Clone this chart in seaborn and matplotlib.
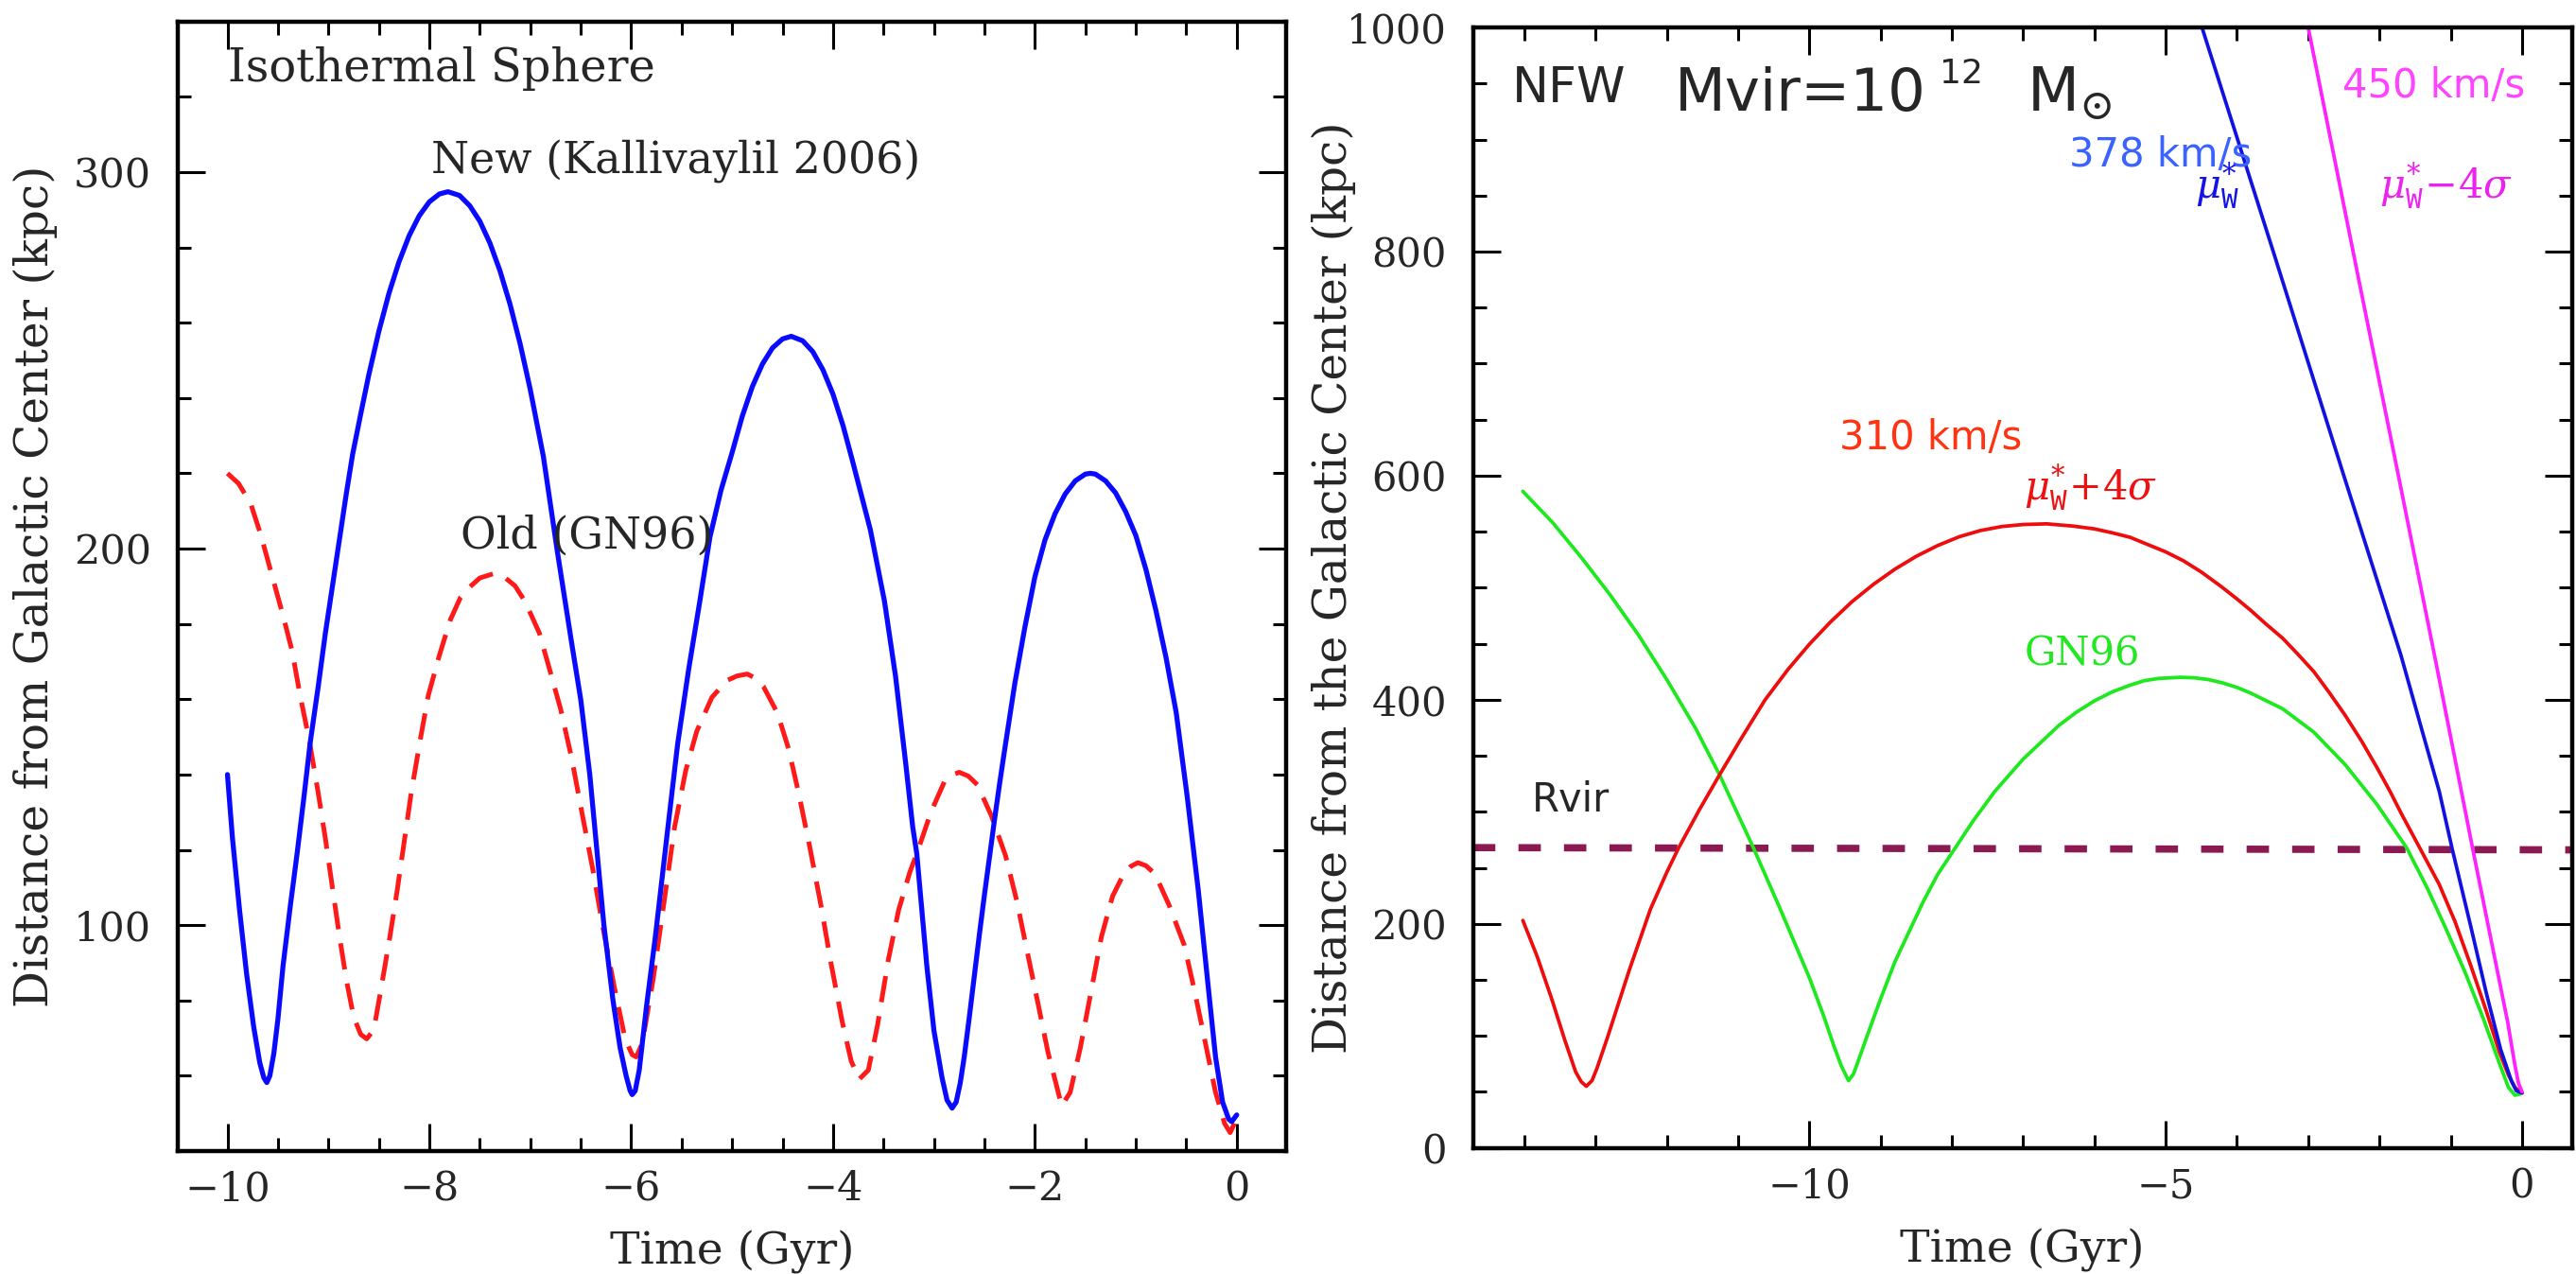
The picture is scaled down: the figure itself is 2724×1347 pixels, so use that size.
import matplotlib
matplotlib.use("Agg")
import matplotlib.pyplot as plt
import matplotlib.ticker as mticker
import seaborn as sns

# ────────────────────────────────────────────────────────────────
# Left panel: isothermal sphere orbits (time in Gyr, distance in kpc)
# ────────────────────────────────────────────────────────────────
new_t = [-10.00, -9.95, -9.88, -9.81, -9.74, -9.68, -9.64, -9.61, -9.58, -9.54,
         -9.50, -9.45, -9.38, -9.31, -9.24, -9.18, -9.10, -9.03, -8.96, -8.89,
         -8.82, -8.76, -8.68, -8.60, -8.50, -8.40, -8.30, -8.20, -8.10, -8.00,
         -7.90, -7.815, -7.70, -7.60, -7.50, -7.40, -7.30, -7.20, -7.10, -7.00,
         -6.87, -6.73, -6.59, -6.50, -6.41, -6.34, -6.27, -6.18, -6.11, -6.05,
         -6.01, -5.99, -5.96, -5.92, -5.85, -5.76, -5.64, -5.54, -5.43, -5.32,
         -5.22, -5.11, -5.00, -4.90, -4.80, -4.70, -4.60, -4.50, -4.414, -4.30,
         -4.20, -4.10, -4.00, -3.90, -3.81, -3.63, -3.49, -3.38, -3.28, -3.21,
         -3.17, -3.14, -3.07, -3.00, -2.92, -2.87, -2.82, -2.78, -2.74, -2.70,
         -2.65, -2.60, -2.55, -2.50, -2.45, -2.40, -2.35, -2.30, -2.20, -2.10,
         -2.00, -1.90, -1.80, -1.70, -1.60, -1.50, -1.451, -1.40, -1.30, -1.20,
         -1.10, -1.00, -0.90, -0.80, -0.70, -0.60, -0.49, -0.38, -0.28, -0.21,
         -0.14, -0.08, -0.05, 0.00]
new_d = [140.0, 123.0, 104.0, 87.0, 73.0, 63.5, 59.5, 58.2, 60.0, 66.0,
         75.0, 89.0, 104.5, 119.0, 134.5, 148.5, 163.5, 177.5, 190.0, 202.5,
         215.0, 225.0, 235.7, 246.1, 257.7, 267.8, 276.2, 283.1, 288.4, 292.1,
         294.2, 294.8, 293.8, 291.1, 287.0, 281.2, 273.8, 264.9, 254.4, 242.3,
         224.5, 199.0, 175.0, 160.0, 140.0, 120.0, 100.0, 80.0, 67.5, 60.0,
         56.0, 55.0, 56.0, 61.5, 78.0, 97.0, 125.0, 148.0, 168.0, 186.0,
         203.0, 215.5, 225.5, 235.1, 243.0, 249.0, 253.3, 255.7, 256.4, 255.2,
         252.3, 247.5, 241.0, 232.6, 223.6, 205.0, 186.0, 166.0, 143.0, 126.0,
         119.0, 110.0, 89.0, 72.0, 59.5, 53.5, 51.4, 53.0, 58.0, 65.0,
         75.5, 86.5, 97.5, 108.0, 118.0, 128.0, 137.5, 146.5, 164.0, 179.0,
         192.5, 202.3, 209.3, 214.5, 218.0, 219.8, 220.0, 219.8, 218.0, 214.8,
         209.8, 203.5, 194.5, 183.5, 171.0, 156.5, 134.0, 109.0, 83.0, 65.0,
         53.0, 48.5, 47.8, 49.6]

old_t = [-10.00, -9.89, -9.77, -9.67, -9.56, -9.45, -9.36, -9.28, -9.19, -9.10,
         -9.03, -8.96, -8.89, -8.82, -8.75, -8.68, -8.62, -8.55, -8.48, -8.39,
         -8.32, -8.25, -8.18, -8.09, -8.01, -7.90, -7.79, -7.69, -7.60, -7.50,
         -7.37, -7.25, -7.15, -7.05, -6.91, -6.81, -6.70, -6.59, -6.49, -6.38,
         -6.28, -6.17, -6.06, -5.99, -5.95, -5.89, -5.78, -5.68, -5.57, -5.46,
         -5.35, -5.20, -5.05, -4.95, -4.85, -4.77, -4.69, -4.55, -4.44, -4.34,
         -4.23, -4.12, -4.02, -3.91, -3.82, -3.74, -3.65, -3.56, -3.45, -3.35,
         -3.24, -3.17, -3.03, -2.89, -2.82, -2.75, -2.66, -2.57, -2.43, -2.29,
         -2.18, -2.08, -1.97, -1.87, -1.78, -1.735, -1.65, -1.55, -1.44, -1.34,
         -1.23, -1.12, -1.05, -0.98, -0.90, -0.81, -0.67, -0.52, -0.42, -0.31,
         -0.21, -0.12, -0.065, 0.00]
old_d = [220.0, 217.3, 212.0, 203.7, 193.0, 182.3, 172.9, 161.0, 149.2, 135.0,
         123.1, 110.0, 97.0, 85.2, 75.7, 71.0, 69.8, 72.2, 82.8, 97.0,
         108.9, 121.9, 135.0, 149.2, 161.0, 171.7, 181.2, 187.1, 189.8, 192.2,
         193.3, 192.3, 190.1, 185.9, 177.6, 168.1, 157.5, 144.4, 130.2, 114.8,
         99.4, 84.0, 69.8, 65.6, 65.0, 68.6, 86.0, 105.0, 126.0, 141.0,
         151.5, 160.5, 165.0, 166.2, 166.7, 165.6, 163.4, 156.3, 146.8, 135.0,
         120.7, 105.3, 89.9, 74.5, 63.9, 59.1, 61.5, 73.3, 91.1, 104.0,
         114.0, 119.0, 130.0, 138.5, 139.9, 140.6, 139.6, 137.3, 129.0, 118.4,
         106.5, 93.5, 79.3, 66.2, 56.8, 52.0, 55.6, 67.4, 82.8, 97.0,
         107.7, 113.6, 115.6, 116.6, 115.8, 113.6, 105.3, 94.7, 82.8, 68.6,
         55.6, 47.3, 44.9, 48.7]

# ────────────────────────────────────────────────────────────────
# Right panel: NFW halo, Mvir = 1e12 Msun
# ────────────────────────────────────────────────────────────────
red_t = [-14.02, -13.82, -13.62, -13.43, -13.28, -13.20, -13.13, -13.05, -12.98, -12.83,
         -12.53, -12.23, -12.00, -11.84, -11.55, -11.26, -10.95, -10.62, -10.30, -10.00,
         -9.70, -9.40, -9.10, -8.80, -8.50, -8.20, -7.90, -7.60, -7.30, -7.00,
         -6.67, -6.30, -6.00, -5.75, -5.50, -5.00, -4.75, -4.50, -4.22, -4.00,
         -3.81, -3.60, -3.36, -3.15, -2.92, -2.70, -2.48, -2.25, -2.04, -1.85,
         -1.69, -1.42, -1.16, -0.94, -0.72, -0.50, -0.32, -0.19, -0.10, 0.00]
red_d = [203, 171, 134, 96, 68, 59, 55, 60, 71, 99,
         158, 213, 246, 267, 301, 333, 366, 400, 427, 449.5,
         469.6, 487.6, 503, 516.5, 528, 537.6, 545.4, 551, 554.6, 556.4,
         557, 555, 552.5, 549, 545, 532, 524, 514, 501, 490,
         480, 468, 455, 441, 425, 406, 386, 363, 340, 318,
         298, 266, 235, 202, 163, 122, 86, 65, 54, 49]

gn96_t = [-14.02, -13.60, -13.20, -12.80, -12.40, -12.00, -11.60, -11.26, -10.80, -10.40,
          -10.00, -9.80, -9.65, -9.55, -9.45, -9.38, -9.30, -9.20, -9.00, -8.80,
          -8.60, -8.40, -8.20, -7.96, -7.70, -7.40, -7.00, -6.50, -6.25, -6.00,
          -5.75, -5.50, -5.30, -5.10, -4.79, -4.60, -4.40, -4.20, -4.00, -3.81,
          -3.36, -2.92, -2.48, -2.04, -1.62, -1.33, -1.07, -0.80, -0.54, -0.32,
          -0.19, -0.10, -0.03]
gn96_d = [586, 558, 527, 494, 458, 418, 375, 333, 270, 212,
          152, 118, 90, 73, 60, 66, 80, 98, 133, 166,
          193, 220, 244, 267, 292, 318, 347, 377, 389, 399,
          407, 413, 417, 419, 420, 419.6, 418, 415, 411, 406,
          392, 371, 342, 307, 268, 232, 196, 157, 115, 76,
          54, 47, 48]

blue_t = [-4.49, -3.49, -2.50, -2.00, -1.70, -1.40, -1.16, -0.98, -0.72, -0.50,
          -0.30, -0.15, -0.08, 0.00]
blue_d = [1000, 800, 600, 500, 440, 372, 318, 267, 198, 138,
          88, 60, 51, 49]

mag_t = [-3.00, -2.37, -1.75, -1.21, -0.69, -0.40, -0.20, -0.10, -0.05, 0.00]
mag_d = [1000, 800, 605, 434, 266.5, 175, 112, 74, 58, 50]

rvir_t = [-14.72, 0.70]
rvir_d = [268, 266]

# ────────────────────────────────────────────────────────────────
# Style
# ────────────────────────────────────────────────────────────────
sns.set_style("ticks")
plt.rcParams["font.family"] = ["DejaVu Serif", "DejaVu Sans"]
plt.rcParams["mathtext.fontset"] = "dejavuserif"

SANS = ["DejaVu Sans"]

fig = plt.figure(figsize=(27.24, 13.47), dpi=100)
ax1 = fig.add_axes([0.0689, 0.0965, 0.4304, 0.8866])
ax2 = fig.add_axes([0.5718, 0.0990, 0.4266, 0.8794])


def style_axis(ax, lab_size):
    for s in ax.spines.values():
        s.set_visible(True)
        s.set_linewidth(3.2)
        s.set_color("black")
    ax.tick_params(which="both", direction="in", top=True, right=True,
                   width=2.2, color="black", labelsize=lab_size)
    ax.tick_params(which="major", length=21)
    ax.tick_params(which="minor", length=10)
    ax.tick_params(axis="x", which="major", pad=14)
    ax.tick_params(axis="y", which="major", pad=20)
    ax.grid(False)


# ═══════════════════════════════════════════════════════════════
# Left panel
# ═══════════════════════════════════════════════════════════════
sns.lineplot(x=old_t, y=old_d, ax=ax1, sort=False, estimator=None,
             color="#ff1a1a", lw=3.6, ls=(0, (5.6, 3.0)))
sns.lineplot(x=new_t, y=new_d, ax=ax1, sort=False, estimator=None,
             color="#0a0aff", lw=3.8)

ax1.set_xlim(-10.495, 0.49)
ax1.set_ylim(40, 340)
ax1.xaxis.set_major_locator(mticker.MultipleLocator(2))
ax1.xaxis.set_minor_locator(mticker.MultipleLocator(0.5))
ax1.yaxis.set_major_locator(mticker.MultipleLocator(100))
ax1.yaxis.set_minor_locator(mticker.MultipleLocator(20))
style_axis(ax1, 31)

ax1.set_xlabel("Time (Gyr)", fontsize=34)
ax1.xaxis.set_label_coords(0.5, -0.0703)
ax1.set_ylabel("Distance from Galactic Center (kpc)", fontsize=35, va="center")
ax1.yaxis.set_label_coords(-0.1285, 0.5)

ax1.text(-10.0, 324, "Isothermal Sphere", fontsize=34.5, va="baseline", ha="left")
ax1.text(-7.98, 299.7, "New (Kallivaylil 2006)", fontsize=33, va="baseline", ha="left")
ax1.text(-7.69, 200, "Old (GN96)", fontsize=33, va="baseline", ha="left")

# ═══════════════════════════════════════════════════════════════
# Right panel
# ═══════════════════════════════════════════════════════════════
sns.lineplot(x=rvir_t, y=rvir_d, ax=ax2, sort=False, estimator=None,
             color="#8c1a52", lw=5.5, ls=(0, (3.1, 3.2)))
sns.lineplot(x=gn96_t, y=gn96_d, ax=ax2, sort=False, estimator=None,
             color="#1ee81e", lw=2.7)
sns.lineplot(x=red_t, y=red_d, ax=ax2, sort=False, estimator=None,
             color="#ee0c0c", lw=2.7)
sns.lineplot(x=blue_t, y=blue_d, ax=ax2, sort=False, estimator=None,
             color="#1212e0", lw=2.7)
sns.lineplot(x=mag_t, y=mag_d, ax=ax2, sort=False, estimator=None,
             color="#ff22ff", lw=2.7)

ax2.set_xlim(-14.72, 0.70)
ax2.set_ylim(0, 1000)
ax2.xaxis.set_major_locator(mticker.MultipleLocator(5))
ax2.xaxis.set_minor_locator(mticker.MultipleLocator(1))
ax2.yaxis.set_major_locator(mticker.MultipleLocator(200))
ax2.yaxis.set_minor_locator(mticker.MultipleLocator(50))
style_axis(ax2, 30)

ax2.set_xlabel("Time (Gyr)", fontsize=34)
ax2.xaxis.set_label_coords(0.5, -0.072)
ax2.set_ylabel("Distance from the Galactic Center (kpc)", fontsize=35, va="center")
ax2.yaxis.set_label_coords(-0.127, 0.5)

ax2.text(-14.17, 933, "NFW", fontsize=37.5, family=SANS, va="baseline")
ax2.text(-11.89, 926, "Mvir=10", fontsize=45, family=SANS, va="baseline")
ax2.text(-8.17, 950, "12", fontsize=26, family=SANS, va="baseline")
ax2.text(-6.956, 926, r"M$_{\odot}$", fontsize=46, family=SANS, va="baseline")

ax2.text(-2.52, 937.6, "450 km/s", fontsize=30, family=SANS, color="#ff44ff", va="baseline")
ax2.text(-6.354, 876, "378 km/s", fontsize=30, family=SANS, color="#3a62ff", va="baseline")
ax2.text(-4.59, 847, r"$\mu^{*}_{\mathtt{W}}$", fontsize=30, color="#1414e6", va="baseline")
ax2.text(-2.00, 847, r"$\mu^{*}_{\mathtt{W}}\!-\!4\sigma$", fontsize=30, color="#ee22ee", va="baseline")
ax2.text(-9.577, 623.6, "310 km/s", fontsize=30, family=SANS, color="#ff3311", va="baseline")
ax2.text(-6.99, 578, r"$\mu^{*}_{\mathtt{W}}\!+\!4\sigma$", fontsize=30, color="#ee1111", va="baseline")
ax2.text(-6.98, 430.3, "GN96", fontsize=30, color="#22e822", va="baseline")
ax2.text(-13.90, 300.4, "Rvir", fontsize=30, family=SANS, va="baseline")

fig.savefig("out.png", dpi=100)
plt.close(fig)
